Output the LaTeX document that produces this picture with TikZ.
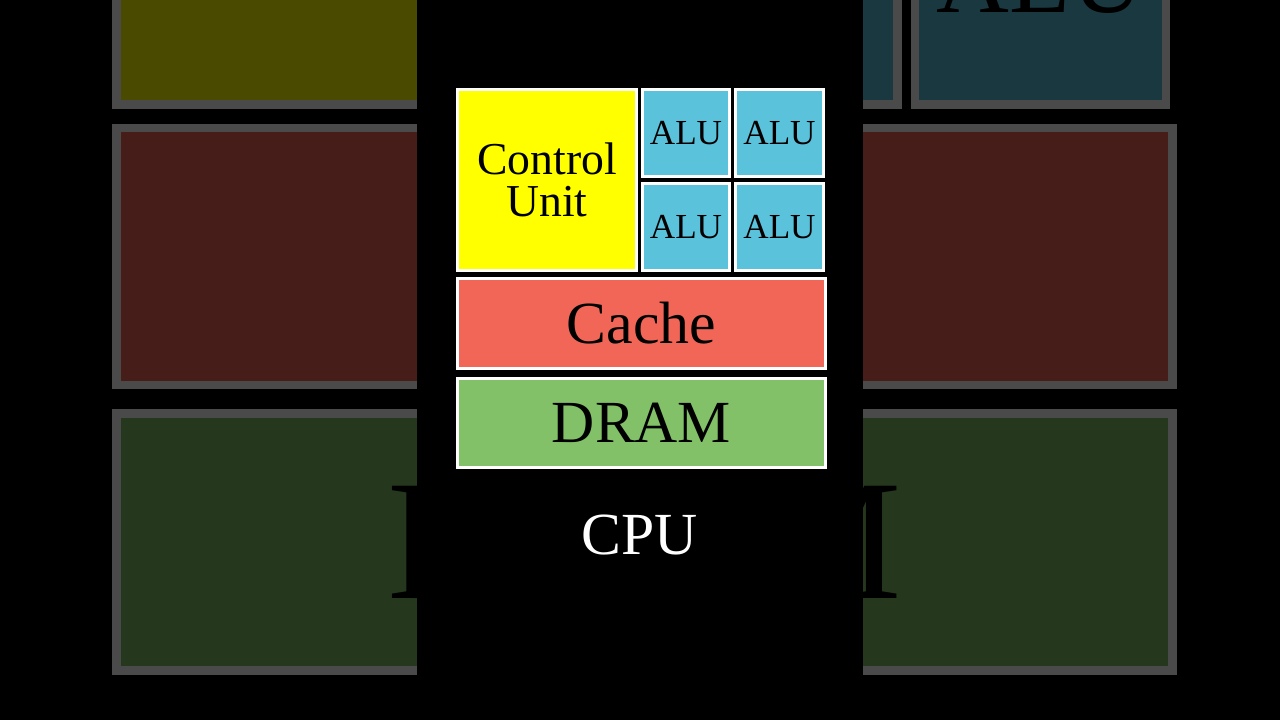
\documentclass[tikz,border=0pt]{standalone}
\usepackage{fontspec}
\setmainfont{Liberation Serif}

\definecolor{cuyellow}{RGB}{255,255,0}
\definecolor{alublue}{RGB}{91,194,220}
\definecolor{cachered}{RGB}{242,102,88}
\definecolor{dramgreen}{RGB}{130,193,104}

\tikzset{
  part/.style={draw=white, inner sep=0pt, align=center, text=black},
  alubox/.style={part, fill=alublue, minimum width=1.75cm, minimum height=1.74cm,
    font=\fontsize{20}{22}\selectfont},
  wide/.style={part, minimum width=7.36cm, minimum height=1.79cm,
    font=\fontsize{34}{36}\selectfont}
}

% #1 prefix of the node names, #2 border width
\newcommand{\cpublock}[2]{%
  \node[part, line width=#2, fill=cuyellow, minimum width=3.58cm, minimum height=3.62cm,
    font=\fontsize{26}{24}\selectfont] (#1cu) at (547,540) {Control\\Unit};
  \node[alubox, line width=#2] (#1alua) at (686,587) {ALU};
  \node[alubox, line width=#2] (#1alub) at (779.5,587) {ALU};
  \node[alubox, line width=#2] (#1aluc) at (686,493) {ALU};
  \node[alubox, line width=#2] (#1alud) at (779.5,493) {ALU};
  \node[wide, line width=#2, fill=cachered] (#1cache) at (641.5,396.5) {Cache};
  \node[wide, line width=#2, fill=dramgreen] (#1dram) at (641.5,297) {DRAM};
}

\begin{document}
\begin{tikzpicture}[x=0.02cm,y=0.02cm]
\fill[black] (0,0) rectangle (1280,720);
\useasboundingbox (0,0) rectangle (1280,720);

% enlarged copy behind, dimmed
\begin{scope}
\clip (0,0) rectangle (1280,720);
\begin{scope}[shift={(-1196.7,-674.4)}, scale=2.87, transform shape]
\cpublock{bg}{4.9pt}
\end{scope}
\end{scope}
\fill[black, opacity=0.71] (0,0) rectangle (1280,720);
\fill[black] (417,0) rectangle (863,720);

% the CPU itself
\cpublock{}{1.7pt}
\node[text=white, font=\fontsize{34}{36}\selectfont] (cpu) at (640,185) {CPU};
\end{tikzpicture}
\end{document}
